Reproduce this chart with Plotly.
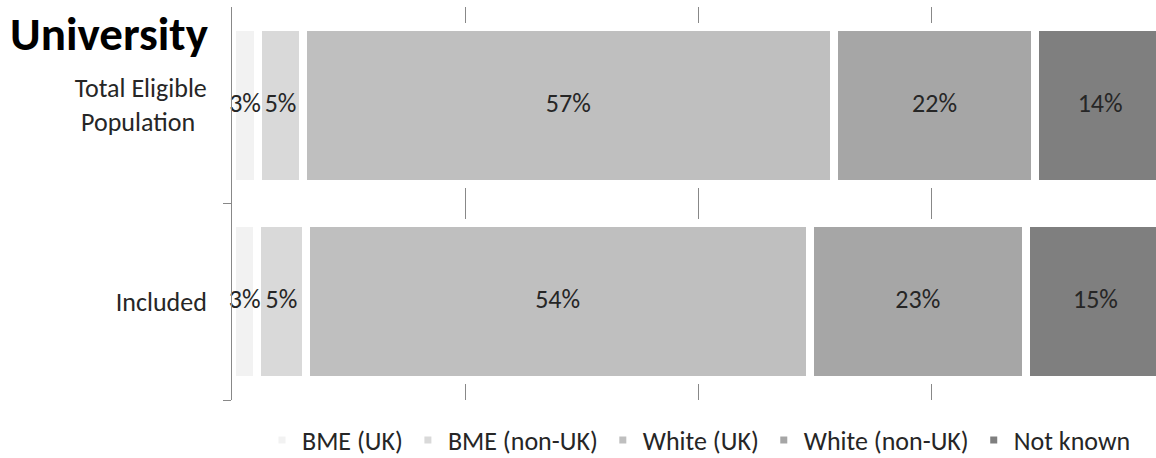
import numpy as np
import plotly.graph_objects as go

# ---- data ----
categories = ["Total Eligible Population", "Included"]
category_labels = ["Total Eligible<br>Population&nbsp;&nbsp;", "Included"]
series_names = ["BME (UK)", "BME (non-UK)", "White (UK)", "White (non-UK)", "Not known"]
bme_uk = [2.8, 2.7]
bme_non_uk = [4.8, 5.2]
white_uk = [56.9, 54.0]
white_non_uk = [21.6, 23.2]
not_known = [13.9, 14.9]
series_values = [bme_uk, bme_non_uk, white_uk, white_non_uk, not_known]
series_colors = ["#f2f2f2", "#d9d9d9", "#bfbfbf", "#a6a6a6", "#7f7f7f"]
title_text = "University"

FONT = "Calibri, Carlito, Lato, sans-serif"
TEXT_COLOR = "#262626"
AXIS_COLOR = "#888888"

fig = go.Figure()
for name, vals, col in zip(series_names, series_values, series_colors):
    fig.add_trace(go.Bar(
        y=categories,
        x=vals,
        name=name,
        orientation="h",
        marker=dict(color=col, line=dict(color="white", width=8)),
        hoverinfo="skip",
    ))

# data labels on top of all bars (centred on each segment)
vals_arr = np.array(series_values, dtype=float)
mids = np.cumsum(vals_arr, axis=0) - vals_arr / 2
for vals, mid in zip(series_values, mids):
    fig.add_trace(go.Scatter(
        y=categories,
        x=mid,
        mode="text",
        text=[f"{v:.0f}%" for v in vals],
        textposition="middle center",
        textfont=dict(family=FONT, size=26, color=TEXT_COLOR),
        cliponaxis=False,
        showlegend=False,
        hoverinfo="skip",
    ))

fig.update_layout(
    barmode="stack",
    bargap=0.2,
    width=1165,
    height=458,
    margin=dict(l=232, r=0, t=7, b=58),
    paper_bgcolor="white",
    plot_bgcolor="white",
    font=dict(family=FONT, size=26, color=TEXT_COLOR),
    title=dict(
        text="<b>" + title_text + "</b>",
        font=dict(family=FONT, size=47, color="#000000"),
        xref="container", x=10 / 1165, xanchor="left",
        yref="container", y=1 - 17.5 / 458, yanchor="top",
        pad=dict(t=0, b=0, l=0, r=0),
    ),
    xaxis=dict(
        range=[0, 100],
        tick0=0, dtick=25,
        showgrid=True, gridcolor=AXIS_COLOR, gridwidth=1,
        zeroline=False,
        showticklabels=False,
        showline=False,
        ticks="",
    ),
    yaxis=dict(
        categoryorder="array",
        categoryarray=categories[::-1],
        tickvals=categories,
        ticktext=category_labels,
        tickson="boundaries",
        ticks="outside",
        ticklen=8,
        tickcolor=AXIS_COLOR,
        showline=True,
        linecolor=AXIS_COLOR,
        linewidth=1,
        showgrid=False,
        ticklabelstandoff=19,
        tickfont=dict(family=FONT, size=26, color=TEXT_COLOR),
    ),
    legend=dict(
        orientation="h",
        xref="container", x=262 / 1165, xanchor="left",
        yref="container", y=1 - 440 / 458, yanchor="middle",
        font=dict(family=FONT, size=26, color=TEXT_COLOR),
        traceorder="normal",
        itemclick=False,
    ),
    showlegend=True,
)

fig.write_html(
    "out.html",
    config={"displayModeBar": False},
    post_script="document.body.style.margin='0';document.body.style.overflow='hidden';",
)
